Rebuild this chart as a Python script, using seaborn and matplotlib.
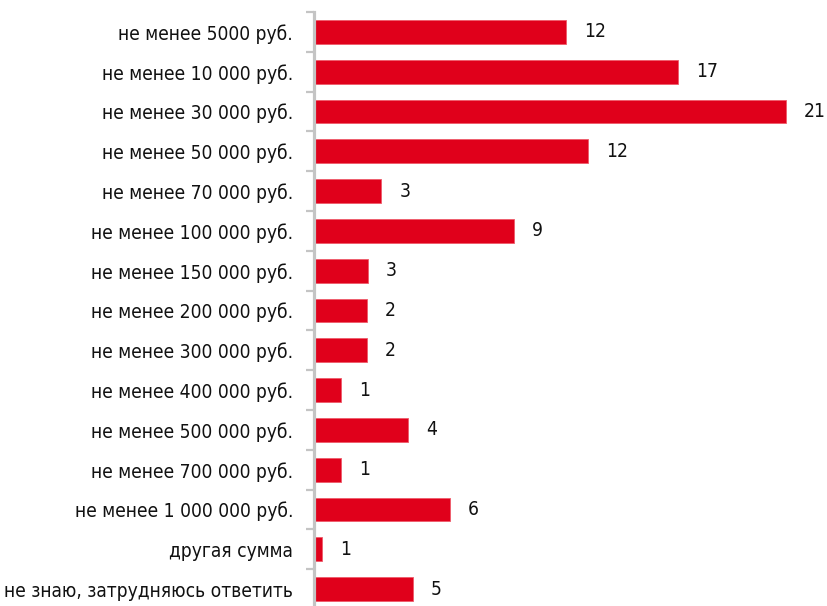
import pandas as pd
import matplotlib.pyplot as plt
import seaborn as sns
from matplotlib.ticker import FixedLocator

categories = [
    "не менее 5000 руб.",
    "не менее 10 000 руб.",
    "не менее 30 000 руб.",
    "не менее 50 000 руб.",
    "не менее 70 000 руб.",
    "не менее 100 000 руб.",
    "не менее 150 000 руб.",
    "не менее 200 000 руб.",
    "не менее 300 000 руб.",
    "не менее 400 000 руб.",
    "не менее 500 000 руб.",
    "не менее 700 000 руб.",
    "не менее 1 000 000 руб.",
    "другая сумма",
    "не знаю, затрудняюсь ответить",
]
# bar lengths as drawn in the picture
shares = [11.2, 16.2, 21.0, 12.2, 3.0, 8.9, 2.4, 2.35, 2.35, 1.2, 4.2, 1.2, 6.05, 0.36, 4.4]
# value labels as printed next to the bars
share_labels = ["12", "17", "21", "12", "3", "9", "3", "2", "2", "1", "4", "1", "6", "1", "5"]

df = pd.DataFrame({"category": categories, "share": shares})

sns.set_style("white")
plt.rcParams["font.family"] = ["DejaVu Sans"]
plt.rcParams["font.stretch"] = "condensed"

W, H = 827, 606
fig = plt.figure(figsize=(W / 100, H / 100), dpi=100)
left_px, top_px, unit_px, row_px = 314, 12, 22.48, 39.8
ax = fig.add_axes([left_px / W, 1 - (top_px + 15 * row_px) / H,
                   22 * unit_px / W, 15 * row_px / H])

sns.barplot(data=df, x="share", y="category", orient="h", color="#e0001b",
            saturation=1, width=0.6, edgecolor="#ee5a6a", linewidth=0.6, ax=ax)

ax.set_xlim(0, 22)
ax.set_ylim(14.5, -0.5)
ax.set_xlabel("")
ax.set_ylabel("")
ax.set_xticks([])

for side in ["top", "right", "bottom"]:
    ax.spines[side].set_visible(False)
ax.spines["left"].set_color("#c4c4c4")
ax.spines["left"].set_linewidth(2.3)

ax.yaxis.set_minor_locator(FixedLocator([i - 0.5 for i in range(16)]))
ax.tick_params(axis="y", which="major", left=True, length=0, pad=15,
               labelsize=13.8, labelcolor="#111111")
ax.tick_params(axis="y", which="minor", left=True, length=6, width=1.6, color="#c4c4c4")

ax.bar_label(ax.containers[0], labels=share_labels, padding=13, fontsize=13.8,
             color="#111111", clip_on=False)

fig.savefig("out.png", dpi=100)
